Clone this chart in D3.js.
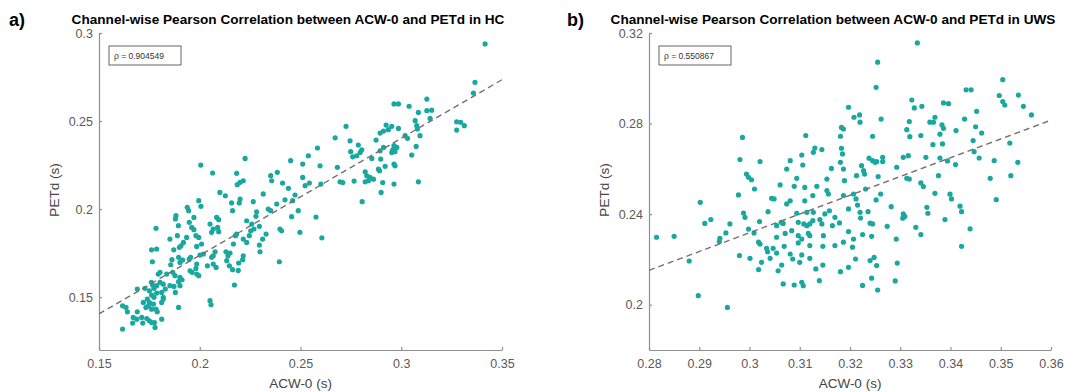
<!DOCTYPE html>
<html>
<head>
<meta charset="utf-8">
<script src="https://cdn.jsdelivr.net/npm/d3@7"></script>
<style>
  body { margin: 0; background: #fff; }
  svg { display: block; font-family: "Liberation Sans", Arial, sans-serif; }
  .tick text { fill: #595959; font-size: 12.5px; }
  .domain, .tick line { stroke: #8f8f8f; stroke-width: 1.2; }
</style>
</head>
<body>
<svg id="chart" width="1088" height="392"></svg>
<script>
// ACW-0 (s), PETd (s) pairs
const hcPoints = [
  [0.2225,0.2288],[0.2005,0.2250],[0.2451,0.2275],[0.2064,0.2205],[0.2183,0.2203],[0.2385,0.2209],[0.2352,0.2190],[0.2357,0.2161],[0.2216,0.2161],[0.2200,0.2152],[0.2186,0.2139],[0.2411,0.2148],[0.2440,0.2118],[0.2100,0.2095],[0.2127,0.2076],[0.2315,0.2086],[0.2473,0.2080],[0.2423,0.2053],[0.2461,0.2048],[0.1995,0.2048],[0.2006,0.2016],[0.2200,0.2057],[0.2196,0.2035],[0.2266,0.2042],[0.2158,0.2035],[0.2163,0.1991],[0.1938,0.2010],[0.1945,0.1991],[0.1882,0.1963],[0.1879,0.1944],[0.1971,0.1953],[0.2084,0.1953],[0.2094,0.1940],[0.2340,0.2000],[0.2352,0.1991],[0.2382,0.2029],[0.2489,0.1991],[0.2282,0.1985],[0.2279,0.1959],[0.2233,0.1934],[0.2258,0.1915],[0.2051,0.1915],[0.2067,0.1887],[0.2089,0.1896],[0.2094,0.1872],[0.2059,0.1868],[0.1948,0.1925],[0.1960,0.1896],[0.1783,0.1891],[0.1894,0.1906],[0.1971,0.1883],[0.1981,0.1849],[0.1995,0.1839],[0.2456,0.1957],[0.2398,0.1887],[0.2406,0.1877],[0.2497,0.1868],[0.2296,0.1902],[0.2269,0.1887],[0.2253,0.1877],[0.2246,0.1849],[0.2329,0.1858],[0.2312,0.1830],[0.2216,0.1830],[0.2233,0.1811],[0.2183,0.1858],[0.2177,0.1849],[0.2167,0.1802],[0.1935,0.1839],[0.1919,0.1811],[0.1907,0.1792],[0.1899,0.1783],[0.1889,0.1849],[0.1852,0.1830],[0.1761,0.1769],[0.1786,0.1773],[0.1871,0.1769],[0.2009,0.1802],[0.1985,0.1788],[0.2018,0.1745],[0.2001,0.1739],[0.2076,0.1758],[0.2067,0.1735],[0.2059,0.1726],[0.2130,0.1758],[0.2140,0.1735],[0.2150,0.1750],[0.2296,0.1796],[0.2299,0.1758],[0.2216,0.1735],[0.2213,0.1713],[0.1765,0.1701],[0.1895,0.1726],[0.1862,0.1713],[0.1856,0.1684],[0.1902,0.1697],[0.1915,0.1711],[0.1948,0.1716],[0.1955,0.1726],[0.1985,0.1688],[0.1981,0.1663],[0.2038,0.1678],[0.2067,0.1688],[0.2081,0.1669],[0.2134,0.1707],[0.2147,0.1678],[0.2193,0.1694],[0.2395,0.1701],[0.1803,0.1641],[0.1794,0.1631],[0.1836,0.1631],[0.1866,0.1641],[0.1877,0.1622],[0.1902,0.1612],[0.1912,0.1599],[0.1952,0.1650],[0.1962,0.1641],[0.1985,0.1631],[0.1995,0.1622],[0.2163,0.1656],[0.2191,0.1652],[0.1760,0.1584],[0.1766,0.1569],[0.1773,0.1550],[0.1786,0.1565],[0.1803,0.1584],[0.1819,0.1574],[0.1829,0.1546],[0.1852,0.1565],[0.1872,0.1561],[0.1879,0.1527],[0.1895,0.1588],[0.1902,0.1565],[0.1690,0.1546],[0.1728,0.1550],[0.1750,0.1536],[0.1761,0.1512],[0.1773,0.1499],[0.1786,0.1523],[0.1811,0.1527],[0.1819,0.1499],[0.2172,0.1569],[0.1740,0.1489],[0.1750,0.1470],[0.1745,0.1451],[0.1761,0.1432],[0.1770,0.1461],[0.1720,0.1470],[0.1733,0.1442],[0.1811,0.1470],[0.1819,0.1489],[0.2051,0.1480],[0.2056,0.1457],[0.1895,0.1442],[0.1617,0.1451],[0.1641,0.1417],[0.1634,0.1442],[0.1690,0.1417],[0.1712,0.1385],[0.1737,0.1379],[0.1750,0.1366],[0.1783,0.1432],[0.1789,0.1417],[0.1670,0.1385],[0.1667,0.1353],[0.1687,0.1375],[0.1761,0.1356],[0.1775,0.1356],[0.1811,0.1375],[0.1617,0.1319],[0.1778,0.1328],[0.1717,0.1353],
  [0.3416,0.2938],[0.3366,0.2720],[0.3358,0.2659],[0.2964,0.2597],[0.2986,0.2597],[0.3127,0.2625],[0.3039,0.2584],[0.3085,0.2549],[0.3127,0.2559],[0.3151,0.2562],[0.3143,0.2515],[0.3069,0.2502],[0.3077,0.2474],[0.3080,0.2455],[0.2925,0.2477],[0.2953,0.2470],[0.2936,0.2451],[0.2986,0.2458],[0.2895,0.2432],[0.2912,0.2443],[0.2726,0.2470],[0.2672,0.2405],[0.2875,0.2392],[0.2746,0.2388],[0.2787,0.2364],[0.3093,0.2417],[0.3019,0.2417],[0.3031,0.2402],[0.3275,0.2496],[0.3295,0.2493],[0.3313,0.2474],[0.3275,0.2449],[0.3074,0.2356],[0.2964,0.2360],[0.2978,0.2350],[0.2958,0.2337],[0.2969,0.2326],[0.2953,0.2322],[0.2912,0.2350],[0.2895,0.2331],[0.2804,0.2337],[0.2796,0.2322],[0.2749,0.2326],[0.2759,0.2297],[0.2779,0.2303],[0.2584,0.2347],[0.2539,0.2303],[0.3052,0.2307],[0.2854,0.2288],[0.2898,0.2284],[0.2597,0.2246],[0.2683,0.2237],[0.2964,0.2256],[0.2969,0.2246],[0.2920,0.2243],[0.2887,0.2227],[0.2892,0.2218],[0.2821,0.2212],[0.2829,0.2189],[0.2845,0.2180],[0.2862,0.2170],[0.2821,0.2155],[0.2837,0.2161],[0.2696,0.2155],[0.2710,0.2151],[0.2766,0.2159],[0.2908,0.2151],[0.2964,0.2142],[0.3085,0.2155],[0.2544,0.2148],[0.2523,0.2133],[0.2601,0.2142],[0.2900,0.2095],[0.2806,0.2042],[0.2577,0.1955],[0.2606,0.1837],[0.2511,0.2256],[0.2511,0.2180]
];

const uwsPoints = [
  [0.3197,0.2872],[0.3183,0.2783],[0.3187,0.2776],[0.3181,0.2744],[0.2986,0.2739],[0.3112,0.2747],[0.3130,0.2692],[0.3127,0.2673],[0.3144,0.2685],[0.3104,0.2661],[0.3106,0.2617],[0.2981,0.2641],[0.3021,0.2632],[0.3081,0.2636],[0.3183,0.2691],[0.3185,0.2666],[0.3181,0.2629],[0.3163,0.2602],[0.3074,0.2599],[0.3187,0.2599],[0.3189,0.2548],[0.2994,0.2577],[0.2998,0.2563],[0.3004,0.2552],[0.3094,0.2558],[0.3154,0.2555],[0.3061,0.2529],[0.3089,0.2523],[0.3110,0.2518],[0.3134,0.2523],[0.3010,0.2511],[0.2978,0.2485],[0.3044,0.2470],[0.3049,0.2467],[0.3154,0.2504],[0.3157,0.2489],[0.3126,0.2482],[0.3074,0.2445],[0.3081,0.2459],[0.3110,0.2459],[0.2902,0.2452],[0.3187,0.2482],[0.3037,0.2411],[0.3094,0.2404],[0.3114,0.2408],[0.3127,0.2408],[0.3150,0.2401],[0.3159,0.2415],[0.2988,0.2405],[0.2991,0.2386],[0.3140,0.2376],[0.3170,0.2386],[0.3197,0.2423],[0.2911,0.2359],[0.2923,0.2376],[0.2961,0.2357],[0.3020,0.2367],[0.3054,0.2349],[0.3063,0.2364],[0.3067,0.2359],[0.3097,0.2364],[0.3108,0.2357],[0.3114,0.2349],[0.3120,0.2357],[0.3126,0.2371],[0.3144,0.2357],[0.3165,0.2349],[0.3179,0.2361],[0.2998,0.2334],[0.2953,0.2317],[0.3009,0.2317],[0.3071,0.2315],[0.3084,0.2327],[0.3097,0.2305],[0.3117,0.2315],[0.3120,0.2305],[0.3147,0.2305],[0.2815,0.2298],[0.2850,0.2302],[0.2941,0.2293],[0.2940,0.2279],[0.3197,0.2323],[0.3018,0.2276],[0.3021,0.2268],[0.3054,0.2298],[0.3104,0.2290],[0.3120,0.2261],[0.3034,0.2249],[0.3036,0.2234],[0.3047,0.2249],[0.3054,0.2228],[0.3069,0.2258],[0.3097,0.2273],[0.3146,0.2258],[0.3170,0.2261],[0.3187,0.2276],[0.2980,0.2217],[0.3001,0.2205],[0.3024,0.2187],[0.3041,0.2205],[0.3081,0.2224],[0.3086,0.2202],[0.3104,0.2220],[0.3120,0.2205],[0.2880,0.2193],[0.3064,0.2175],[0.3100,0.2187],[0.3018,0.2155],[0.3057,0.2150],[0.3132,0.2158],[0.3146,0.2175],[0.3181,0.2146],[0.3197,0.2165],[0.3067,0.2092],[0.3089,0.2087],[0.3104,0.2099],[0.3107,0.2084],[0.3139,0.2106],[0.2898,0.2040],[0.2956,0.1988],
  [0.3334,0.3156],[0.3255,0.3071],[0.3252,0.2960],[0.3504,0.2994],[0.3431,0.2949],[0.3441,0.2949],[0.3497,0.2924],[0.3504,0.2897],[0.3508,0.2882],[0.3535,0.2926],[0.3545,0.2876],[0.3561,0.2838],[0.3323,0.2904],[0.3328,0.2869],[0.3343,0.2876],[0.3386,0.2891],[0.3396,0.2888],[0.3208,0.2828],[0.3219,0.2838],[0.3220,0.2806],[0.3262,0.2820],[0.3452,0.2854],[0.3428,0.2820],[0.3369,0.2828],[0.3359,0.2806],[0.3366,0.2806],[0.3318,0.2809],[0.3383,0.2794],[0.3386,0.2779],[0.3313,0.2773],[0.3411,0.2769],[0.3450,0.2786],[0.3462,0.2758],[0.3245,0.2744],[0.3341,0.2747],[0.3319,0.2742],[0.3379,0.2753],[0.3365,0.2707],[0.3384,0.2710],[0.3445,0.2725],[0.3518,0.2714],[0.3306,0.2651],[0.3316,0.2658],[0.3238,0.2647],[0.3245,0.2636],[0.3250,0.2629],[0.3253,0.2632],[0.3265,0.2651],[0.3265,0.2632],[0.3351,0.2651],[0.3379,0.2648],[0.3394,0.2635],[0.3447,0.2676],[0.3457,0.2648],[0.3410,0.2619],[0.3487,0.2636],[0.3534,0.2629],[0.3293,0.2607],[0.3223,0.2614],[0.3227,0.2592],[0.3229,0.2577],[0.3213,0.2570],[0.3256,0.2566],[0.3313,0.2558],[0.3318,0.2555],[0.3376,0.2570],[0.3479,0.2558],[0.3520,0.2570],[0.3341,0.2538],[0.3346,0.2522],[0.3231,0.2511],[0.3207,0.2489],[0.3212,0.2467],[0.3261,0.2489],[0.3252,0.2463],[0.3369,0.2492],[0.3399,0.2488],[0.3402,0.2467],[0.3491,0.2464],[0.3215,0.2440],[0.3282,0.2433],[0.3353,0.2430],[0.3355,0.2404],[0.3220,0.2408],[0.3236,0.2411],[0.3419,0.2435],[0.3422,0.2411],[0.3221,0.2383],[0.3240,0.2360],[0.3245,0.2357],[0.3306,0.2401],[0.3309,0.2390],[0.3305,0.2382],[0.3274,0.2346],[0.3331,0.2342],[0.3389,0.2376],[0.3439,0.2335],[0.3341,0.2310],[0.3225,0.2310],[0.3243,0.2302],[0.3207,0.2290],[0.3292,0.2290],[0.3422,0.2258],[0.3205,0.2254],[0.3211,0.2202],[0.3240,0.2195],[0.3248,0.2209],[0.3253,0.2173],[0.3294,0.2184],[0.3243,0.2117],
  [0.3225,0.2085],[0.3255,0.2065],[0.3290,0.2105]
];

// least-squares lines as drawn: [x0, y0, x1, y1]
const hcFit = [0.15, 0.1405, 0.35, 0.2735];
const uwsFit = [0.28, 0.2152, 0.36, 0.2815];

const hcXTicks = [0.15, 0.2, 0.25, 0.3, 0.35];
const hcYTicks = [0.15, 0.2, 0.25, 0.3];
const uwsXTicks = [0.28, 0.29, 0.3, 0.31, 0.32, 0.33, 0.34, 0.35, 0.36];
const uwsYTicks = [0.2, 0.24, 0.28, 0.32];

const svg = d3.select("#chart");
const dotColor = "#19a8a0";

function drawPanel(p) {
  const x = d3.scaleLinear().domain(p.xDomain).range([p.left, p.right]);
  const y = d3.scaleLinear().domain(p.yDomain).range([p.bottom, p.top]);
  const g = svg.append("g");

  // axes, ticks pointing inward
  g.append("g")
    .attr("transform", `translate(0,${p.bottom})`)
    .call(d3.axisBottom(x).tickValues(p.xTicks).tickFormat(d3.format("")).tickSize(-3).tickSizeOuter(0).tickPadding(9));
  g.append("g")
    .attr("transform", `translate(${p.left},0)`)
    .call(d3.axisLeft(y).tickValues(p.yTicks).tickFormat(d3.format("")).tickSize(-3).tickSizeOuter(0).tickPadding(6));

  g.selectAll(".dot")
    .data(p.points)
    .enter()
    .append("circle")
    .attr("class", "dot")
    .attr("cx", d => x(d[0]))
    .attr("cy", d => y(d[1]))
    .attr("r", 2.6)
    .attr("fill", dotColor);

  g.append("line")
    .attr("x1", x(p.fit[0])).attr("y1", y(p.fit[1]))
    .attr("x2", x(p.fit[2])).attr("y2", y(p.fit[3]))
    .attr("stroke", "#7a6e6e")
    .attr("stroke-width", 1.4)
    .attr("stroke-dasharray", "6,4");

  // rho box
  const bx = p.left + 10, by = p.top + 13;
  g.append("rect")
    .attr("x", bx).attr("y", by).attr("width", 72).attr("height", 19)
    .attr("fill", "#fff").attr("stroke", "#555").attr("stroke-width", 0.9);
  g.append("text")
    .attr("x", bx + 5).attr("y", by + 13)
    .style("font-size", "8.5px").attr("fill", "#333")
    .text(p.rho);

  g.append("text")
    .attr("x", p.titleX).attr("y", 24)
    .attr("text-anchor", "middle")
    .style("font-size", "13.6px").style("font-weight", "bold")
    .text(p.title);
  g.append("text")
    .attr("x", p.tagX).attr("y", 26)
    .style("font-size", "18px").style("font-weight", "bold")
    .text(p.tag);

  g.append("text")
    .attr("x", (p.left + p.right) / 2).attr("y", 388)
    .attr("text-anchor", "middle")
    .style("font-size", "13.5px").attr("fill", "#444")
    .text("ACW-0 (s)");
  g.append("text")
    .attr("transform", `translate(${p.left - 40},190) rotate(-90)`)
    .attr("text-anchor", "middle")
    .style("font-size", "13.5px").attr("fill", "#444")
    .text("PETd (s)");
}

drawPanel({
  left: 99, right: 502, top: 33, bottom: 350,
  xDomain: [0.15, 0.35], yDomain: [0.12, 0.3],
  xTicks: hcXTicks, yTicks: hcYTicks,
  points: hcPoints, fit: hcFit, rho: "ρ = 0.904549",
  title: "Channel-wise Pearson Correlation between ACW-0 and PETd in HC",
  titleX: 288, tag: "a)", tagX: 9
});

drawPanel({
  left: 649, right: 1051, top: 33, bottom: 350,
  xDomain: [0.28, 0.36], yDomain: [0.18, 0.32],
  xTicks: uwsXTicks, yTicks: uwsYTicks,
  points: uwsPoints, fit: uwsFit, rho: "ρ = 0.550867",
  title: "Channel-wise Pearson Correlation between ACW-0 and PETd in UWS",
  titleX: 833, tag: "b)", tagX: 567
});
</script>
</body>
</html>
